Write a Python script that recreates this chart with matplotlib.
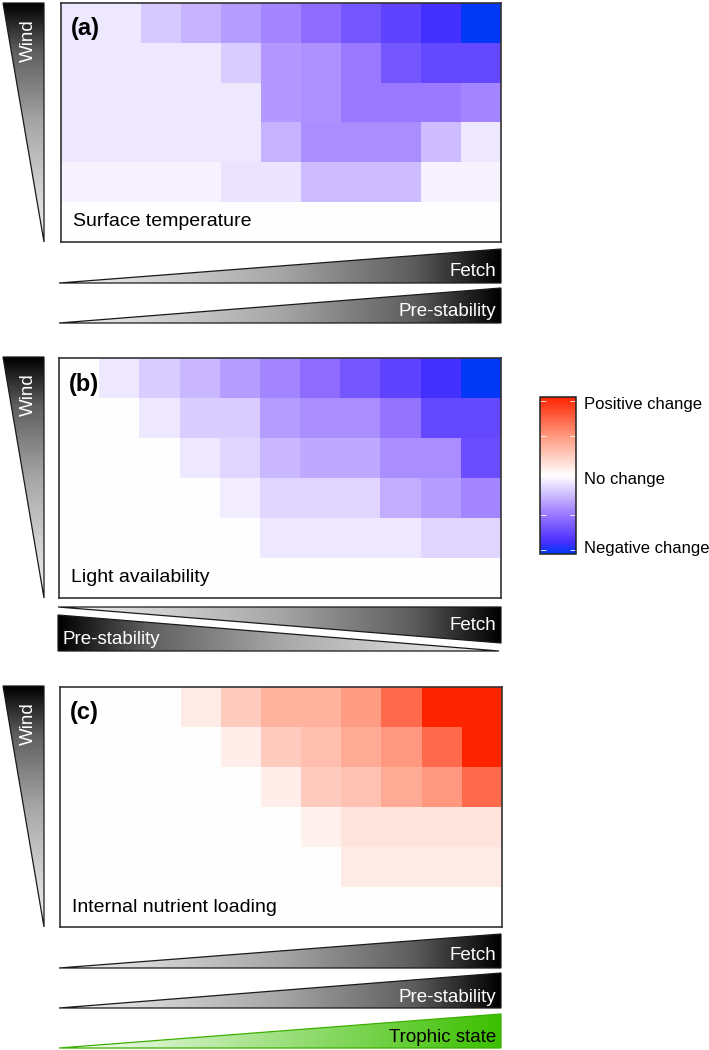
import numpy as np
import matplotlib
matplotlib.use('Agg')
import matplotlib.pyplot as plt
from matplotlib.colors import LinearSegmentedColormap, Normalize
from matplotlib.cm import ScalarMappable
from matplotlib.patches import Polygon
from matplotlib.ticker import FixedLocator

plt.rcParams['font.family'] = ['Liberation Sans', 'DejaVu Sans']

# cell values: -1 = strongest negative change, +1 = strongest positive change
# rows go from high wind (top) to low wind (bottom), columns along the x gradients
surface_temp = [
    [-0.08, -0.08, -0.20, -0.28, -0.36, -0.45, -0.55, -0.65, -0.75, -0.85, -1.00],
    [-0.08, -0.08, -0.08, -0.08, -0.18, -0.38, -0.40, -0.50, -0.65, -0.72, -0.72],
    [-0.08, -0.08, -0.08, -0.08, -0.08, -0.38, -0.40, -0.50, -0.50, -0.50, -0.45],
    [-0.08, -0.08, -0.08, -0.08, -0.08, -0.28, -0.42, -0.42, -0.42, -0.25, -0.08],
    [-0.04, -0.04, -0.04, -0.04, -0.10, -0.10, -0.25, -0.25, -0.25, -0.04, -0.04],
    [0, 0, 0, 0, 0, 0, 0, 0, 0, 0, 0],
]
light_avail = [
    [0, -0.08, -0.18, -0.26, -0.36, -0.45, -0.55, -0.65, -0.75, -0.85, -1.00],
    [0, 0, -0.08, -0.18, -0.18, -0.36, -0.42, -0.42, -0.52, -0.72, -0.72],
    [0, 0, 0, -0.08, -0.15, -0.26, -0.32, -0.32, -0.42, -0.42, -0.70],
    [0, 0, 0, 0, -0.07, -0.15, -0.15, -0.15, -0.30, -0.36, -0.45],
    [0, 0, 0, 0, 0, -0.08, -0.08, -0.08, -0.08, -0.15, -0.15],
    [0, 0, 0, 0, 0, 0, 0, 0, 0, 0, 0],
]
nutrient_load = [
    [0, 0, 0, 0.10, 0.25, 0.38, 0.38, 0.48, 0.70, 1.00, 1.00],
    [0, 0, 0, 0, 0.08, 0.25, 0.32, 0.42, 0.50, 0.70, 1.00],
    [0, 0, 0, 0, 0, 0.08, 0.25, 0.30, 0.42, 0.50, 0.70],
    [0, 0, 0, 0, 0, 0, 0.07, 0.13, 0.13, 0.13, 0.13],
    [0, 0, 0, 0, 0, 0, 0, 0.10, 0.10, 0.10, 0.10],
    [0, 0, 0, 0, 0, 0, 0, 0, 0, 0, 0],
]
panel_tags = ['(a)', '(b)', '(c)']
panel_names = ['Surface temperature', 'Light availability', 'Internal nutrient loading']
cbar_labels = ['Positive change', 'No change', 'Negative change']

W, H = 709, 1050
fig = plt.figure(figsize=(W / 100, H / 100), dpi=100)

chg = LinearSegmentedColormap.from_list('chg', [
    (0.0, '#0038f5'), (0.08, '#4a30ff'), (0.25, '#9a78ff'), (0.5, '#ffffff'),
    (0.75, '#ff9a80'), (1.0, '#ff2400')])
gray = LinearSegmentedColormap.from_list('gray_tri', [
    (0.0, '#000000'), (0.2, '#5e5e5e'), (0.5, '#a6a6a6'), (1.0, '#f4f4f4')])
green = LinearSegmentedColormap.from_list('green_tri', ['#ffffff', '#3cc000'])


def px_axes(x0, y0, x1, y1):
    return fig.add_axes([x0 / W, 1 - y1 / H, (x1 - x0) / W, (y1 - y0) / H])


# heatmap panels
boxes = [(61, 3, 501, 242), (59, 358, 501, 598), (60, 687, 502, 927)]
for data, box in zip([surface_temp, light_avail, nutrient_load], boxes):
    ax = px_axes(*box)
    ax.imshow(np.array(data), cmap=chg, vmin=-1, vmax=1, aspect='auto',
              interpolation='nearest')
    ax.set_xticks([])
    ax.set_yticks([])
    for s in ax.spines.values():
        s.set_linewidth(1.2)
        s.set_color('#333333')

# colorbar
cax = px_axes(540, 397, 576, 554)
cb = fig.colorbar(ScalarMappable(Normalize(-1, 1), chg), cax=cax)
cb.set_ticks([0.92, -0.03, -0.91])
cb.set_ticklabels(cbar_labels)
cax.tick_params(length=0, pad=6, labelsize=12)
cax.yaxis.set_minor_locator(FixedLocator([-0.95, -0.5, 0.5, 0.95]))
cax.tick_params(which='minor', length=4, color='white', direction='in',
                left=True, right=True)
cb.outline.set_linewidth(1.1)
cb.outline.set_edgecolor('#222222')

# overlay for the gradient triangles and labels
ov = fig.add_axes([0, 0, 1, 1])
ov.set_zorder(5)
ov.axis('off')


def grad_tri(verts, cm, vertical=False, reverse=False, edge='#1a1a1a'):
    xs = [v[0] for v in verts]
    ys = [v[1] for v in verts]
    g = np.linspace(0, 1, 256)
    if reverse:
        g = g[::-1]
    arr = g[:, None] if vertical else g[None, :]
    im = ov.imshow(arr, cmap=cm, vmin=0, vmax=1, aspect='auto',
                   interpolation='bilinear', origin='upper',
                   extent=(min(xs), max(xs), max(ys), min(ys)))
    poly = Polygon(verts, closed=True, fc='none', ec=edge, lw=0.9)
    ov.add_patch(poly)
    im.set_clip_path(poly)


txt = dict(fontsize=13.5, va='center')

# wind triangles
for top, bot in [(3, 242), (357, 598), (686, 927)]:
    grad_tri([(3, top), (44, top), (44, bot)], gray, vertical=True)
    ov.text(28, top + 38, 'Wind', rotation=90, ha='center', color='white', **txt)

# under (a)
grad_tri([(59, 283), (501, 249), (501, 283)], gray, reverse=True)
ov.text(496, 272, 'Fetch', ha='right', color='white', **txt)
grad_tri([(59, 323), (501, 288), (501, 323)], gray, reverse=True)
ov.text(496, 311, 'Pre-stability', ha='right', color='white', **txt)

# under (b)
grad_tri([(58, 607), (501, 607), (501, 643)], gray, reverse=True)
ov.text(496, 625, 'Fetch', ha='right', color='white', **txt)
grad_tri([(58, 615), (58, 651), (499, 651)], gray)
ov.text(63, 639, 'Pre-stability', ha='left', color='white', **txt)

# under (c)
grad_tri([(59, 968), (501, 934), (501, 968)], gray, reverse=True)
ov.text(496, 956, 'Fetch', ha='right', color='white', **txt)
grad_tri([(59, 1008), (501, 973), (501, 1008)], gray, reverse=True)
ov.text(496, 997, 'Pre-stability', ha='right', color='white', **txt)
grad_tri([(59, 1048), (501, 1014), (501, 1048)], green, edge='#3cb000')
ov.text(496, 1037, 'Trophic state', ha='right', color='black', **txt)

# panel labels
for tag, name, box in zip(panel_tags, panel_names, boxes):
    ov.text(box[0] + 10, box[1] + 26, tag, fontsize=17, fontweight='bold',
            ha='left', va='center')
    ov.text(box[0] + 12, box[3] - 20, name, fontsize=14, ha='left', va='center')

ov.set_xlim(0, W)
ov.set_ylim(H, 0)

fig.savefig('out.png', dpi=100)
